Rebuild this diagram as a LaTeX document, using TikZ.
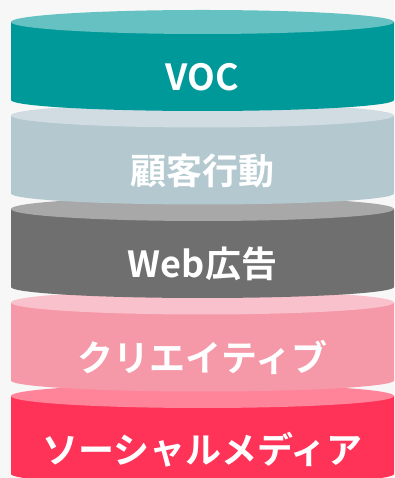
\documentclass[tikz,border=0pt]{standalone}
\usepackage{fontspec}
\usepackage{tikz}
\newfontfamily\jpfont{Noto Sans CJK JP}[BoldFont={Noto Sans CJK JP Bold}]

\definecolor{vocside}{HTML}{009999}
\definecolor{voctop}{HTML}{66C2C2}
\definecolor{custside}{HTML}{B3C8CF}
\definecolor{custtop}{HTML}{D1DCE2}
\definecolor{webside}{HTML}{6F6F6F}
\definecolor{webtop}{HTML}{A8A8A8}
\definecolor{creaside}{HTML}{F598A8}
\definecolor{creatop}{HTML}{F9C1CB}
\definecolor{snsside}{HTML}{FF3358}
\definecolor{snstop}{HTML}{FF8499}

\begin{document}
\begin{tikzpicture}[x=1pt,y=1pt,
    label/.style={text=white,font=\jpfont\bfseries\fontsize{36}{40}\selectfont,
      text height=31.7pt,text depth=4.3pt,inner sep=0pt}]
  \fill[black!3] (0,0) rectangle (394,478);
  \useasboundingbox (0,0) rectangle (394,478);

  % layer 5 (bottom)
  \fill[snsside] (11,82) -- (11,4) arc[start angle=180,end angle=360,x radius=191.5,y radius=11] -- (394,82) -- cycle;
  \fill[snstop] (202.5,82) ellipse[x radius=191.5,y radius=12];
  \node[label] (sns) at (202.5,28) {ソーシャルメディア};

  % layer 4
  \fill[creaside] (11,175.5) -- (11,97.5) arc[start angle=180,end angle=360,x radius=191.5,y radius=11] -- (394,175.5) -- cycle;
  \fill[creatop] (202.5,175.5) ellipse[x radius=191.5,y radius=12];
  \node[label] (crea) at (202.5,120.5) {クリエイティブ};

  % layer 3
  \fill[webside] (11,269) -- (11,191) arc[start angle=180,end angle=360,x radius=191.5,y radius=11] -- (394,269) -- cycle;
  \fill[webtop] (202.5,269) ellipse[x radius=191.5,y radius=12];
  \node[label] (web) at (202.5,214) {Web広告};

  % layer 2
  \fill[custside] (11,362.5) -- (11,284.5) arc[start angle=180,end angle=360,x radius=191.5,y radius=11] -- (394,362.5) -- cycle;
  \fill[custtop] (202.5,362.5) ellipse[x radius=191.5,y radius=12];
  \node[label] (cust) at (202.5,307.5) {顧客行動};

  % layer 1 (top)
  \fill[vocside] (11,456) -- (11,378) arc[start angle=180,end angle=360,x radius=191.5,y radius=11] -- (394,456) -- cycle;
  \fill[voctop] (202.5,456) ellipse[x radius=191.5,y radius=12];
  \node[label] (voc) at (202.5,401) {VOC};
\end{tikzpicture}
\end{document}
